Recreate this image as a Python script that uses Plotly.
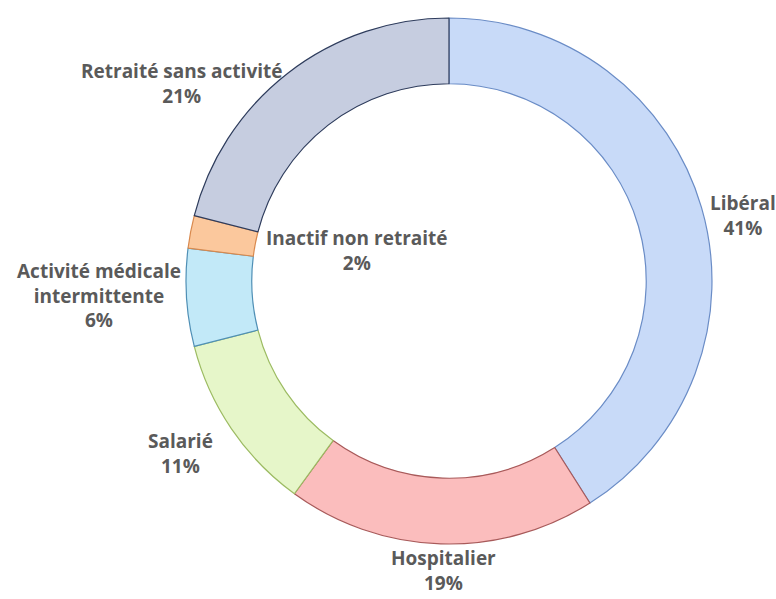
import plotly.graph_objects as go

labels = ["Libéral", "Hospitalier", "Salarié", "Activité médicale<br>intermittente",
          "Inactif non retraité", "Retraité sans activité"]
values = [41, 19, 11, 6, 2, 21]
fill_colors = ["#c8daf8", "#fbbdbd", "#e6f6c9", "#c2e9f8", "#fbc89d", "#c6cde0"]
line_colors = ["#6a8cc6", "#a85a5a", "#9cbb62", "#4f8fb5", "#d9894d", "#2e3c5c"]

# label positions (paper coords, centre of each text block)
label_x = [0.957, 0.571, 0.233, 0.1276, 0.460, 0.235]
label_y = [0.640, 0.047, 0.2437, 0.506, 0.581, 0.861]

fig = go.Figure(go.Pie(
    labels=labels,
    values=values,
    hole=0.75,
    sort=False,
    direction="clockwise",
    rotation=0,
    textinfo="none",
    hoverinfo="label+percent",
    marker=dict(colors=fill_colors, line=dict(color=line_colors, width=1.2)),
    domain=dict(x=[0.2397, 0.9175], y=[0.0918, 0.970]),
    showlegend=False,
))

total = sum(values)
for lab, v, x, y in zip(labels, values, label_x, label_y):
    fig.add_annotation(
        x=x, y=y, xref="paper", yref="paper",
        text=f"{lab}<br>{round(100 * v / total)}%",
        showarrow=False, xanchor="center", yanchor="middle",
        font=dict(family="Open Sans", size=19, color="#5a5a5a", weight="bold"),
        align="center",
    )

fig.update_layout(
    width=776, height=599,
    margin=dict(l=0, r=0, t=0, b=0),
    paper_bgcolor="white", plot_bgcolor="white",
)

fig.write_html("out.html")
